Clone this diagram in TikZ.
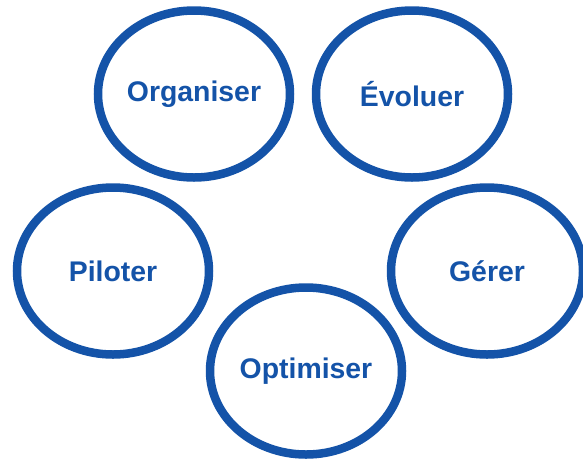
\documentclass[tikz,border=0pt]{standalone}
\usepackage{fontspec}
\setmainfont{Liberation Sans}
\usetikzlibrary{shapes.geometric}
\definecolor{cblue}{HTML}{1453A8}
\tikzset{
  ell/.style={ellipse, draw=cblue, line width=8.5pt, fill=white, inner sep=0pt,
    minimum width=192pt, minimum height=167pt, text=cblue,
    font=\fontsize{28.4}{34}\selectfont\bfseries}
}
\begin{document}
\begin{tikzpicture}[x=1pt,y=-1pt]
\useasboundingbox (0,0) rectangle (583,459);
\node[ell] (org) at (194,94) {Organiser};
\node[ell] (evo) at (412,94) {Évoluer};
\node[ell] (pil) at (113,271) {Piloter};
\node[ell] (ger) at (487,271) {Gérer};
\node[ell] (opt) at (306,371) {Optimiser};
\end{tikzpicture}
\end{document}
